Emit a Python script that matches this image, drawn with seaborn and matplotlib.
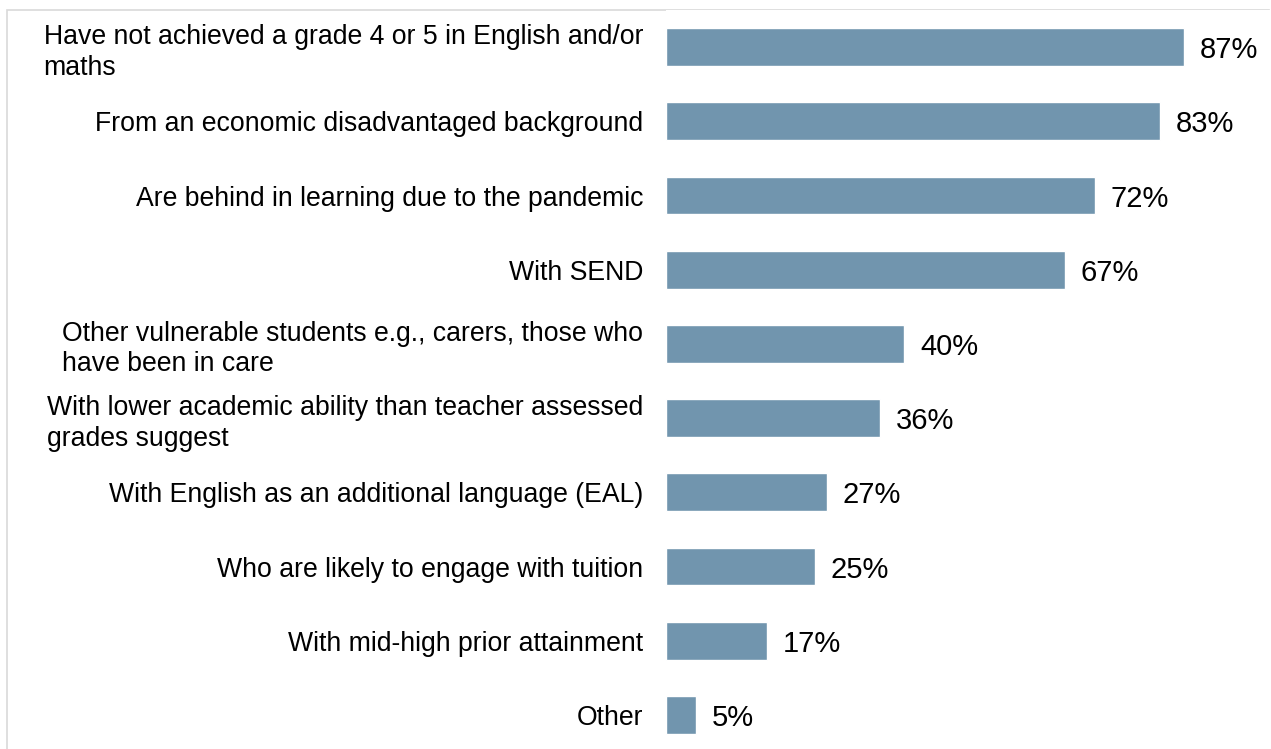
import matplotlib
matplotlib.use("Agg")
import matplotlib.pyplot as plt
import seaborn as sns
import pandas as pd
from matplotlib.patches import Rectangle

categories = [
    "Have not achieved a grade 4 or 5 in English and/or\nmaths",
    "From an economic disadvantaged background",
    "Are behind in learning due to the pandemic",
    "With SEND",
    "Other vulnerable students e.g., carers, those who\nhave been in care",
    "With lower academic ability than teacher assessed\ngrades suggest",
    "With English as an additional language (EAL)",
    "Who are likely to engage with tuition",
    "With mid-high prior attainment",
    "Other",
]
values = [87, 83, 72, 67, 40, 36, 27, 25, 17, 5]

df = pd.DataFrame({"category": categories, "value": values})

sns.set_theme(style="white")
plt.rcParams["font.family"] = ["Liberation Sans", "DejaVu Sans"]

W, H = 1271, 749
fig = plt.figure(figsize=(W / 100, H / 100), dpi=100)
ax = fig.add_axes([666 / W, 0.0, (W - 666) / W, (H - 10) / H])

bar_color = "#7195ae"
sns.barplot(data=df, x="value", y="category", orient="h", color=bar_color,
            width=0.51, ax=ax, saturation=1)

ax.set_xlim(0, (W - 666) / 5.954)
ax.set_ylim(9 + (749 - 715) / 74.2, -0.5)
ax.set_xlabel("")
ax.set_ylabel("")
ax.set_xticks([])
for s in ax.spines.values():
    s.set_visible(False)

ax.tick_params(axis="y", length=0, pad=16.5)
for lbl in ax.get_yticklabels():
    lbl.set_fontsize(19.2)
    lbl.set_color("#000000")
    lbl.set_multialignment("left")
    lbl.set_linespacing(1.22)

for i, v in enumerate(values):
    ax.annotate(f"{v}%", xy=(v, i), xytext=(16, 0), textcoords="offset pixels",
                ha="left", va="center_baseline", fontsize=21, color="#000000")

fig.patches.append(Rectangle((7 / W, -0.05), (1269 - 7) / W, 1.05 - 10 / H,
                             transform=fig.transFigure, fill=False,
                             edgecolor="#d9d9d9", linewidth=1.2, zorder=-1))

fig.savefig("out.png", dpi=100)
